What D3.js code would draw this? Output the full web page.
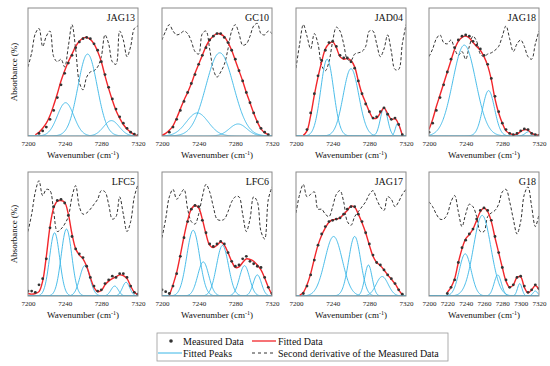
<!DOCTYPE html>
<html><head><meta charset="utf-8">
<script src="https://cdn.jsdelivr.net/npm/d3@7"></script>
<style>body{margin:0;background:#fff}svg{display:block}</style>
</head><body><svg id="c" width="550" height="366"></svg>
<script>
// ---------- DATA ----------
const panelNames = ["JAG13","GC10","JAD04","JAG18","LFC5","LFC6","JAG17","G18"];
const wavenumbers = [7200,7204,7208,7212,7216,7220,7224,7228,7232,7236,7240,7244,7248,7252,7256,7260,7264,7268,7272,7276,7280,7284,7288,7292,7296,7300,7304,7308,7312,7316,7320];
const ticksDefault = [7200,7240,7280,7320];
const ticksG18 = [7200,7220,7240,7260,7280,7300,7320];

// fitted data (red)
const fitJAG13 = [null,null,1,3,6,10,16,24,33,43,51,58,64,70,74,76.5,77,75.5,72,66,58,47,37,28,20,14,9,5.5,3,1,0];
const fitGC10  = [0.5,2,4.5,8,14,21,28,34,41,49,56,63,70,75,78,80,79.5,77.5,73,67,59,51,43,34,26,18,11,5.5,2.5,1,null];
const fitJAD04 = [null,null,0.5,4,16,32,46,58,68,72,73.5,69,62,60,60.5,59,54,43,33,26,19,14,14,18,22,17.5,13,13.5,9,0.5,null];
const fitJAG18 = [5,13,23,32,41,50,59,68,74,77,78,76.5,73,70,67,62,55,44,29,18,10,4,2,1,1.5,3.5,5,4.5,2,1,0.5];
const fitLFC5  = [2,1.5,2,3.5,12,32,56,71,76.5,77,75.5,66,50,38,33,30,24,15,7,3.5,4.5,9,12,14,15.5,17,16.5,14,8,3,1];
const fitLFC6  = [null,null,0.5,9,19,33,48,61,70,73,71,62,50,41,39,41,43.5,41,35,28,23,23.5,27,30,29.5,28,25,21,14.5,7,1];
const fitJAG17 = [null,0.5,3,9,18,30,41,49,55,59.5,61.5,62,63,66,69,72.5,71.5,66,59,51,41,32,27,24.5,21,17,13.5,10,5,1,null];
const fitG18   = [null,null,null,null,null,3,7,14,27,38,46,49.5,54,61,68,71,68,60,47,35,23,12,7,9,15,15.5,7,2.5,5,8.5,5];

// measured data (dots)
const measJAG13 = [null,null,null,2,4,7,13,20,30,40,49,57,63,69,73.5,76,77,76,72,67,58,48,38,29,21,15,10,6,3,1.5,0.5];
const measGC10  = [null,null,3,7,13,20,27,34,41,48,56,63,69,75,78,80,80,77,73,67,60,51,43,34,26,18,11,6,3,1,null];
const measJAD04 = [null,null,null,5,18,33,47,59,67,73,74,70,63,61,61,58,53,43,33,25,19,14,15,19,22,17,13,14,9,1,null];
const measJAG18 = [3,10,20,30,40,50,60,69,75,78,79,78,74,71,68,63,56,45,31,19,10,5,2,1,2,4,5.5,5,2,1,0.5];
const measLFC5  = [4,4,3,9,14,30,55,72,77,78,75,65,48,38,34,31,24,15,8,4,5,10,13,16,15,18,18,15,8,3,1.5];
const measLFC6  = [5,3.5,2,8,18,32,47,60,70,73,72,61,51,42,40,42,44,42,35,28,24,25,30,32,28,26,24,23,15,7,2];
const measJAG17 = [null,null,2,8,17,29,41,50,56,60,61,62,63,66,70,72,72,66,60,51,42,33,27,25,21,17,14,10,5,1.5,null];
const measG18   = [null,null,null,null,null,2,7,13,27,39,45,50,54,62,69,71,69,61,48,35,23,13,7,9,15,16,8,3,5,9,6];

// second derivative of measured data (dashed)
const derivJAG13 = [54,65,80,84,70,78,82,62,58,60,54,70,87,68,42,36,46,50,51,54,62,79,72,58,56,82,75,62,70,84,86];
const derivGC10  = [75,82,87,82,79,80,82,80,74,66,64,80,82,68,52,46,50,56,68,82,87,80,71,72,78,86,88,80,79,82,80];
const derivJAD04 = [53,72,87,78,68,80,72,55,51,58,74,85,82,72,60,59,64,65,66,70,82,82,72,62,68,79,66,52,52,72,87];
const derivJAG18 = [62,68,76,79,73,72,75,68,63,66,60,70,78,74,64,62,64,65,67,70,78,86,76,66,72,75,70,62,60,72,82];
const derivLFC5  = [52,66,84,93,81,86,85,68,52,54,58,64,80,89,72,66,67,70,74,78,85,84,74,62,64,80,66,52,60,80,90];
const derivLFC6  = [47,62,80,86,78,82,86,70,60,58,66,80,90,84,72,62,61,62,68,76,80,80,66,52,62,80,76,52,46,78,88];
const derivJAG17 = [67,82,90,80,82,84,70,70,66,64,72,82,85,76,60,57,64,68,72,76,82,85,78,72,69,80,78,72,76,82,86];
const derivG18   = [76,72,66,62,62,66,76,81,68,56,66,74,72,64,52,52,64,67,69,74,84,86,76,62,50,60,82,88,72,56,66];

// fitted peaks: [centre (cm-1), height, width sigma (cm-1)]
const peaksJAG13 = [[7241,26,9],[7265,64,10.5],[7291,12,8.5]];
const peaksGC10  = [[7238.5,18,12],[7263,65,15],[7283,9.4,9.5]];
const peaksJAD04 = [[7234,60,7],[7260,52.6,8.5],[7296,22,4],[7311,10,2.5]];
const peaksJAG18 = [[7238.5,71,12.5],[7265,35.5,6.5],[7309,3.4,4]];
const peaksLFC5  = [[7229,51,5.5],[7242,54,5.8],[7262,24.5,5.5],[7294.5,8,4],[7307,11,4]];
const peaksLFC6  = [[7234,53,7],[7245,27.5,6],[7266,40.8,6.5],[7290,24.5,5.5],[7304,17,4.5]];
const peaksJAG17 = [[7241,48,9.5],[7264,48,6.5],[7279,25,4],[7294,15.7,6.5]];
const peaksG18   = [[7239.5,34,6.5],[7258,65,9.5],[7275,17,4],[7299,10,2.5],[7316,4,2.5]];

const legendLabels = ["Measured Data","Fitted Data","Fitted Peaks","Second derivative of the Measured Data"];

// ---------- DRAW ----------
const fits = [fitJAG13,fitGC10,fitJAD04,fitJAG18,fitLFC5,fitLFC6,fitJAG17,fitG18];
const meas = [measJAG13,measGC10,measJAD04,measJAG18,measLFC5,measLFC6,measJAG17,measG18];
const derivs = [derivJAG13,derivGC10,derivJAD04,derivJAG18,derivLFC5,derivLFC6,derivJAG17,derivG18];
const peaks = [peaksJAG13,peaksGC10,peaksJAD04,peaksJAG18,peaksLFC5,peaksLFC6,peaksJAG17,peaksG18];

const svg = d3.select("#c");
const FONT = "Liberation Serif, Times New Roman, serif";
const colX = [28,162,296,429], PW = 110;
const rowY = [8,172], rowH = [128,124];
const RED = "#f2262b", CYAN = "#38b6e6", DASH = "#333", DOT = "#333";

panelNames.forEach((name, i) => {
  const r = Math.floor(i/4), c = i%4;
  const x0 = colX[c], y0 = rowY[r], h = rowH[r];
  const g = svg.append("g").attr("transform", `translate(${x0},${y0})`);
  const x = d3.scaleLinear().domain([7200,7320]).range([0,PW]);
  const y = d3.scaleLinear().domain([0,100]).range([h,0]);
  const cid = "clip"+i;
  g.append("clipPath").attr("id",cid).append("rect").attr("width",PW).attr("height",h);
  const plot = g.append("g").attr("clip-path",`url(#${cid})`);

  // second derivative
  const dl = d3.line().x((d,k)=>x(wavenumbers[k])).y(d=>y(d)).curve(d3.curveCatmullRom);
  plot.append("path").attr("d", dl(derivs[i])).attr("fill","none")
    .attr("stroke",DASH).attr("stroke-width",1).attr("stroke-dasharray","3,2");

  // fitted peaks
  const grid = d3.range(7200, 7320.01, 0.5);
  peaks[i].forEach(p => {
    const pts = grid.map(w => [w, p[1]*Math.exp(-((w-p[0])**2)/(2*p[2]*p[2]))]);
    plot.append("path").attr("d", d3.line().x(d=>x(d[0])).y(d=>y(d[1]))(pts))
      .attr("fill","none").attr("stroke",CYAN).attr("stroke-width",0.9);
  });

  // fitted data
  const fl = d3.line().defined(d=>d!=null).x((d,k)=>x(wavenumbers[k])).y(d=>y(d)).curve(d3.curveCatmullRom);
  plot.append("path").attr("d", fl(fits[i])).attr("fill","none")
    .attr("stroke",RED).attr("stroke-width",1.4);

  // measured data
  plot.selectAll("circle.m").data(meas[i].map((v,k)=>[wavenumbers[k],v]).filter(d=>d[1]!=null))
    .join("circle").attr("cx",d=>x(d[0])).attr("cy",d=>y(d[1])).attr("r",1.4).attr("fill",DOT);

  // frame
  g.append("rect").attr("width",PW).attr("height",h).attr("fill","none")
    .attr("stroke","#8a8a8a").attr("stroke-width",1);

  // x axis
  const ax = d3.axisBottom(x).tickValues(name==="G18"?ticksG18:ticksDefault).tickSize(0).tickPadding(5).tickFormat(d3.format("d"));
  const axg = g.append("g").attr("transform",`translate(0,${h})`).call(ax);
  axg.select(".domain").remove();
  axg.selectAll("text").attr("font-family",FONT).attr("font-size",7).attr("fill","#222");

  // x label
  const xl = g.append("text").attr("x",PW/2).attr("y",h+22).attr("text-anchor","middle")
    .attr("font-family",FONT).attr("font-size",9).attr("fill","#111");
  xl.append("tspan").text("Wavenumber (cm");
  xl.append("tspan").attr("font-size",6).attr("dy",-3.5).text("-1");
  xl.append("tspan").attr("dy",3.5).text(")");

  // title
  g.append("text").attr("x",PW-3).attr("y",13).attr("text-anchor","end")
    .attr("font-family",FONT).attr("font-size",10).attr("fill","#111").text(name);

  // y label
  if (c===0) {
    svg.append("text").attr("transform",`translate(${x0-11},${y0+h/2}) rotate(-90)`)
      .attr("text-anchor","middle").attr("font-family",FONT).attr("font-size",9).attr("fill","#111")
      .text("Absorbance (%)");
  }
});

// legend
const lg = svg.append("g");
lg.append("rect").attr("x",157).attr("y",333).attr("width",291).attr("height",28)
  .attr("fill","none").attr("stroke","#999").attr("stroke-width",0.8);
lg.append("circle").attr("cx",171).attr("cy",341).attr("r",1.8).attr("fill",DOT);
lg.append("line").attr("x1",252).attr("x2",276).attr("y1",341).attr("y2",341).attr("stroke",RED).attr("stroke-width",1.3);
lg.append("line").attr("x1",158).attr("x2",182).attr("y1",353).attr("y2",353).attr("stroke",CYAN).attr("stroke-width",1);
lg.append("line").attr("x1",252).attr("x2",276).attr("y1",353).attr("y2",353).attr("stroke",DASH).attr("stroke-width",1).attr("stroke-dasharray","3,3");
const lpos = [[183,341],[278,341],[183,353],[278,353]];
legendLabels.forEach((t,k)=>{
  lg.append("text").attr("x",lpos[k][0]).attr("y",lpos[k][1]+3.5).attr("font-family",FONT)
    .attr("font-size",10).attr("fill","#111").text(t);
});
</script></body></html>
